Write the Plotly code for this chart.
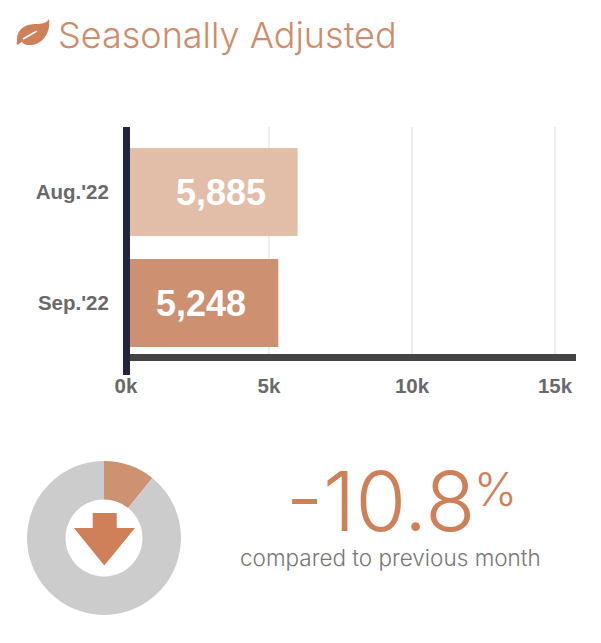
import plotly.graph_objects as go

W, H = 601, 643

# chart values
months = ["Aug.'22", "Sep.'22"]
bar_lengths = [6000, 5325]  # they run a bit longer than their labels
bar_labels = ["5,885", "5,248"]
label_x = [3320, 2620]
bar_colors = ["#e2bea9", "#cd9070"]
x_ticks = [0, 5000, 10000, 15000]
x_tick_labels = ["0k", "5k", "10k", "15k"]
donut_labels = ["change", "rest"]
donut_values = [10.8, 89.2]
donut_colors = ["#cd9272", "#cccccc"]

ORANGE = "#d08058"
TITLE_COL = "#cf8c6a"
LIGHT_FONT = "Inter"
BOLD_FONT = "Liberation Sans"


def px(x):
    return x / W


def py(y):
    return 1 - y / H


def poly(points):
    # pixel points of the page to a paper-space svg path
    return "M " + " L ".join(f"{px(a):.4f},{py(b):.4f}" for a, b in points) + " Z"


fig = go.Figure()

fig.add_trace(go.Bar(
    y=months,
    x=bar_lengths,
    orientation="h",
    marker=dict(color=bar_colors, line=dict(width=0)),
    width=0.793,
    hoverinfo="skip",
))

# donut, circle spans 27..181 across and 461..615 down
fig.add_trace(go.Pie(
    labels=donut_labels,
    values=donut_values,
    hole=0.5,
    sort=False,
    direction="clockwise",
    rotation=0,
    textinfo="none",
    marker=dict(colors=donut_colors, line=dict(width=0)),
    domain=dict(x=[px(27), px(181)], y=[py(615), py(461)]),
    showlegend=False,
    hoverinfo="skip",
))

shapes = [
    # vertical axis bar runs past the horizontal one, paper ref so it isn't clipped
    dict(type="line", xref="paper", yref="paper", x0=px(126.5), x1=px(126.5), y0=py(375), y1=py(127),
         line=dict(color="#23263a", width=7), layer="above"),
    # down arrow in the donut
    dict(type="path", xref="paper", yref="paper", fillcolor=ORANGE, line=dict(width=0),
         path=poly([(92.7, 513), (116.7, 513), (116.7, 528), (135, 528),
                    (104.3, 565.5), (74, 528), (92.7, 528)])),
    # leaf
    dict(type="path", xref="paper", yref="paper", fillcolor=ORANGE, line=dict(width=0),
         path=(f"M {px(17)},{py(42)} C {px(16)},{py(28)} {px(27)},{py(24)} {px(36)},{py(24)} "
               f"C {px(42)},{py(24)} {px(47)},{py(23)} {px(49)},{py(19)} "
               f"C {px(51)},{py(32)} {px(43)},{py(46)} {px(28)},{py(45)} "
               f"C {px(25)},{py(45)} {px(23)},{py(43)} {px(22)},{py(42)} Z")),
    dict(type="line", xref="paper", yref="paper", x0=px(17), y0=py(44), x1=px(23), y1=py(39),
         line=dict(color=ORANGE, width=2.5)),
    dict(type="line", xref="paper", yref="paper", x0=px(23), y0=py(39), x1=px(37), y1=py(31),
         line=dict(color="white", width=1.5)),
]

annotations = [
    dict(x=px(56), y=py(35), xref="paper", yref="paper", xanchor="left", yanchor="middle",
         text="Seasonally Adjusted", showarrow=False,
         font=dict(family=LIGHT_FONT, size=36, color=TITLE_COL, weight=300)),
    dict(x=px(380), y=py(502), xref="paper", yref="paper", xanchor="center", yanchor="middle",
         text="-10.8", showarrow=False,
         font=dict(family=LIGHT_FONT, size=82, color=ORANGE, weight=300)),
    dict(x=px(495), y=py(489), xref="paper", yref="paper", xanchor="center", yanchor="middle",
         text="%", showarrow=False,
         font=dict(family=LIGHT_FONT, size=46, color=ORANGE, weight=300)),
    dict(x=px(390), y=py(557), xref="paper", yref="paper", xanchor="center", yanchor="middle",
         text="compared to previous month", showarrow=False,
         font=dict(family=LIGHT_FONT, size=22.5, color="#777777", weight=300)),
]
for m, txt, xv in zip(months, bar_labels, label_x):
    annotations.append(dict(
        x=xv, y=m, xref="x", yref="y", xanchor="center", yanchor="middle",
        text=txt, showarrow=False,
        font=dict(family=BOLD_FONT, size=36, color="white", weight="bold"),
    ))

fig.update_layout(
    width=W,
    height=H,
    margin=dict(l=0, r=0, t=0, b=0),
    paper_bgcolor="white",
    plot_bgcolor="white",
    showlegend=False,
    shapes=shapes,
    annotations=annotations,
    xaxis=dict(
        automargin=False,
        domain=[px(126), px(576)],
        range=[0, 15734],
        tickvals=x_ticks,
        ticktext=x_tick_labels,
        showgrid=True,
        gridcolor="#eeeeee",
        gridwidth=2,
        zeroline=False,
        showline=True,
        linecolor="#444444",
        linewidth=7,
        ticks="outside",
        ticklen=7,
        tickcolor="rgba(0,0,0,0)",
        tickfont=dict(family=BOLD_FONT, size=20.5, color="#696969", weight="bold"),
    ),
    yaxis=dict(
        automargin=False,
        domain=[py(354), py(127)],
        range=[1.459, -0.586],
        tickmode="array",
        tickvals=months,
        ticktext=months,
        showgrid=False,
        zeroline=False,
        showline=False,
        ticks="outside",
        ticklen=12,
        tickcolor="rgba(0,0,0,0)",
        tickfont=dict(family=BOLD_FONT, size=20.5, color="#696969", weight="bold"),
    ),
)

fig.write_html("out.html", config=dict(displayModeBar=False), post_script="document.body.style.margin='0';")
